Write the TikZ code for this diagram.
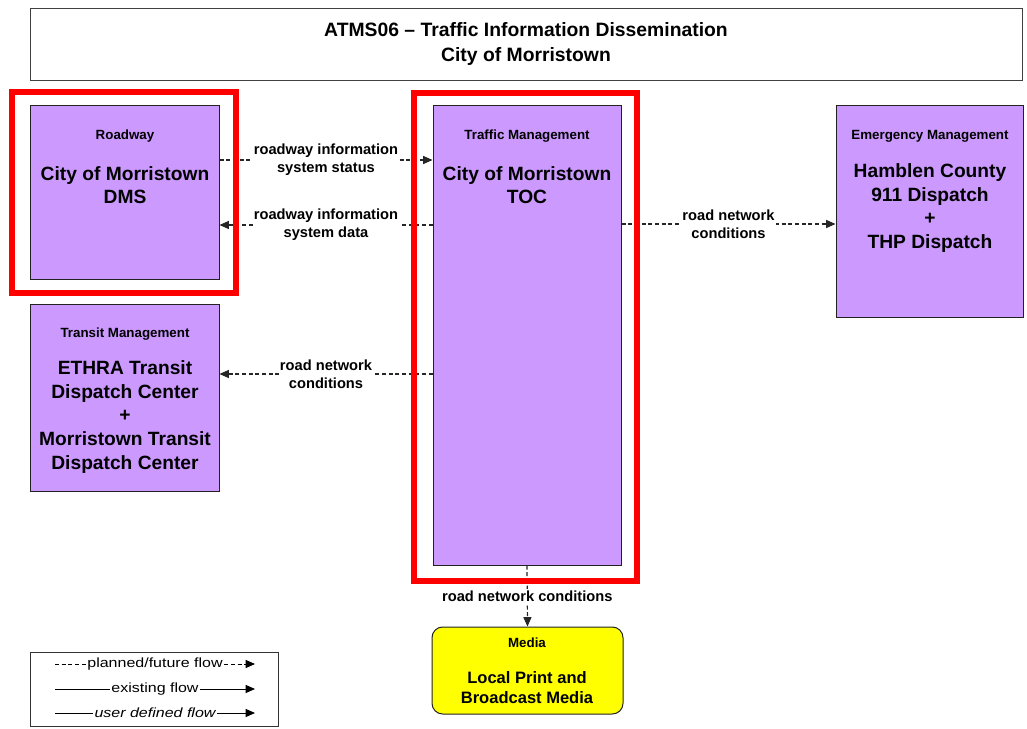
\documentclass[tikz,border=0pt]{standalone}
\usepackage{fontspec}
\setmainfont{Liberation Sans}
\newfontfamily\legfont[FakeStretch=1.2]{Liberation Sans}
\usetikzlibrary{arrows.meta,fit}
\definecolor{boxpurple}{HTML}{CC99FF}
\definecolor{boxyellow}{HTML}{FFFF00}
\definecolor{hlred}{HTML}{FF0000}
\definecolor{edgegray}{HTML}{222222}
\begin{document}
\begin{tikzpicture}[x=0.75pt,y=-0.75pt,
  ent/.style={draw=edgegray, line width=0.75pt, fill=boxpurple, inner sep=0pt},
  titlebox/.style={draw=black!75, line width=0.75pt, inner sep=0pt},
  hdr/.style={font=\bfseries\fontsize{10}{12}\selectfont, inner sep=0pt},
  mainlbl/.style={font=\bfseries\fontsize{14.4}{17.7}\selectfont, align=center, inner sep=0pt},
  flow/.style={draw=black!85, line width=0.9pt, dash pattern=on 3pt off 2pt, -{Triangle[length=7pt,width=6pt]}},
  lbl/.style={fill=white, font=\bfseries\fontsize{11}{13.5}\selectfont, align=center, inner sep=1pt},
  redbox/.style={draw=hlred, line width=4pt, inner sep=0pt},
  legtxt/.style={font=\legfont\fontsize{10}{12}\selectfont, inner sep=1pt},
  legtip/.style={-{Triangle[length=7pt,width=6pt]}}
]
\useasboundingbox (0,0) rectangle (1027,728);

% title
\node[titlebox, fit={(30,8) (1022,80)}] (title) {};
\node[font=\bfseries\fontsize{14.5}{18}\selectfont, align=center, inner sep=0pt] (titletxt) at (526,44)
  {ATMS06 -- Traffic Information Dissemination\\City of Morristown};

% entities
\node[ent, fit={(30,105) (219,279)}] (dms) {};
\node[hdr] (dmsh) at (125,136) {Roadway};
\node[mainlbl] (dmst) at (125,185) {City of Morristown\\DMS};

\node[ent, fit={(433,105) (621,565)}] (toc) {};
\node[hdr] (toch) at (527,136) {Traffic Management};
\node[mainlbl] (toct) at (527,185) {City of Morristown\\TOC};

\node[ent, fit={(836,105) (1023,317)}] (em) {};
\node[hdr] (emh) at (930,136) {Emergency Management};
\node[mainlbl] (emt) at (930,208) {Hamblen County\\911 Dispatch\\+\\THP Dispatch};

\node[ent, fit={(30,304) (219,491)}] (tr) {};
\node[hdr] (trh) at (125,334) {Transit Management};
\node[mainlbl] (trt) at (125,417) {ETHRA Transit\\Dispatch Center\\+\\Morristown Transit\\Dispatch Center};

\node[draw=edgegray, line width=0.75pt, fill=boxyellow, rounded corners=8pt, inner sep=0pt, fit={(432,627) (623,714)}] (media) {};
\node[hdr] (mediah) at (527,643) {Media};
\node[font=\bfseries\fontsize{12.4}{15}\selectfont, align=center, inner sep=0pt] (mediat) at (527,688) {Local Print and\\Broadcast Media};

% flows
\coordinate (r1) at (0,160);
\coordinate (r2) at (0,225);
\coordinate (r3) at (0,224);
\coordinate (r4) at (0,374);
\draw[flow] (dms.east |- r1) -- node[lbl] {roadway information\\system status} (toc.west |- r1);
\draw[flow] (toc.west |- r2) -- node[lbl] {roadway information\\system data} (dms.east |- r2);
\draw[flow] (toc.east |- r3) -- node[lbl] {road network\\conditions} (em.west |- r3);
\draw[flow] (toc.west |- r4) -- node[lbl] {road network\\conditions} (tr.east |- r4);
\draw[flow] (toc.south) -- node[lbl, pos=0.5] {road network conditions} (media.north);

% highlight boxes
\node[redbox, fit={(12,92) (236,293)}] (hl1) {};
\node[redbox, fit={(414,93) (637,581)}] (hl2) {};

% legend
\node[draw=black!80, line width=0.75pt, inner sep=0pt, fit={(30,652) (278,726)}] (legend) {};
\node[legtxt] (lg1) at (155,664) {planned/future flow};
\node[legtxt] (lg2) at (155,689) {existing flow};
\node[legtxt, font=\legfont\itshape\fontsize{10}{12}\selectfont] (lg3) at (155,713) {user defined flow};
\coordinate (lg1a) at (55,664);  \coordinate (lg1b) at (255,664);
\coordinate (lg2a) at (55,689);  \coordinate (lg2b) at (255,689);
\coordinate (lg3a) at (55,713);  \coordinate (lg3b) at (255,713);
\draw[line width=0.75pt, dash pattern=on 3pt off 2pt] (lg1a) -- (lg1.west);
\draw[line width=0.75pt, dash pattern=on 3pt off 2pt, legtip] (lg1.east) -- (lg1b);
\draw[line width=0.75pt] (lg2a) -- (lg2.west);
\draw[line width=0.75pt, legtip] (lg2.east) -- (lg2b);
\draw[line width=0.75pt] (lg3a) -- (lg3.west);
\draw[line width=0.75pt, legtip] (lg3.east) -- (lg3b);
\end{tikzpicture}
\end{document}
